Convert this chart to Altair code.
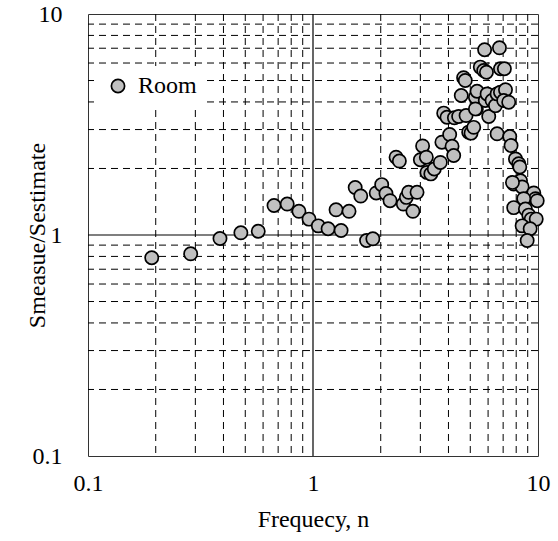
import altair as alt
import pandas as pd

# Measured points (Frequency n, Smeasue/Sestimate)
freq = [0.192, 0.286, 0.386, 0.478, 0.571, 0.671, 0.768, 0.866, 0.96, 1.056,
        1.167, 1.333, 1.266, 1.446, 1.54, 1.63, 1.73, 1.845, 1.91, 2.02,
        2.11, 2.20, 2.52, 2.60, 2.66, 2.78, 2.90, 2.34, 2.42, 3.07,
        3.00, 3.19, 3.21, 3.34, 3.46, 3.68, 3.74, 4.05, 4.15, 4.22,
        3.81, 3.94, 4.25, 4.44, 4.79, 4.92, 5.04, 5.18, 5.32, 4.56,
        4.67, 4.75, 5.27, 5.36, 5.83, 6.04, 5.54, 5.74, 5.90, 5.79,
        6.74, 6.81, 7.09, 5.94, 6.25, 6.47, 6.58, 6.81, 7.17, 7.04,
        7.41, 6.58, 7.49, 7.59, 7.94, 8.21, 8.30, 7.80, 8.36, 8.50,
        9.58, 9.75, 8.64, 7.80, 9.92, 8.79, 9.10, 9.33, 9.82, 8.50,
        9.23, 8.95, 7.70, 5.27]
ratio = [0.789, 0.822, 0.964, 1.023, 1.04, 1.36, 1.38, 1.28, 1.18, 1.10,
         1.067, 1.048, 1.30, 1.28, 1.64, 1.50, 0.944, 0.961, 1.55, 1.69,
         1.54, 1.43, 1.38, 1.48, 1.56, 1.28, 1.56, 2.25, 2.16, 2.53,
         2.19, 2.25, 1.92, 1.89, 1.99, 2.13, 2.63, 2.85, 2.52, 2.29,
         3.56, 3.41, 3.39, 3.44, 3.47, 2.92, 2.89, 3.07, 3.72, 4.28,
         5.15, 5.00, 4.20, 4.47, 4.06, 3.44, 5.75, 5.55, 5.45, 6.89,
         7.03, 5.65, 5.65, 4.35, 4.06, 3.85, 4.35, 4.43, 4.54, 4.06,
         3.99, 2.87, 2.79, 2.54, 2.21, 2.10, 2.03, 1.70, 1.76, 1.65,
         1.55, 1.46, 1.46, 1.33, 1.43, 1.31, 1.23, 1.18, 1.18, 1.10,
         1.067, 0.944, 1.73, 3.72]
series_name = "Room"

minor_vals = [0.2, 0.3, 0.4, 0.5, 0.6, 0.7, 0.8, 0.9, 2, 3, 4, 5, 6, 7, 8, 9]
major_vals = [1]
tick_vals = [0.1, 1, 10]

FONT = "Liberation Serif"

pts = pd.DataFrame({"n": freq, "s": ratio, "series": [series_name] * len(freq)})
minor_df = pd.DataFrame({"v": minor_vals})
major_df = pd.DataFrame({"v": major_vals})

xs = alt.Scale(type="log", domain=[0.1, 10], nice=False)
ys = alt.Scale(type="log", domain=[0.1, 10], nice=False)
xax = alt.Axis(values=tick_vals, format="~g", grid=False, ticks=False, domain=False,
               labelFlush=False, labelOverlap=False,
               labelFont=FONT, labelFontSize=24, labelColor="black", labelPadding=15,
               titleFont=FONT, titleFontSize=24, titleFontWeight="normal",
               titleColor="black", titlePadding=12)
yax = alt.Axis(values=tick_vals, format="~g", grid=False, ticks=False, domain=False,
               labelFlush=False, labelOverlap=False,
               labelFont=FONT, labelFontSize=24, labelColor="black", labelPadding=26,
               titleFont=FONT, titleFontSize=24, titleFontWeight="normal",
               titleColor="black", titleX=-51, titleBaseline="middle")
XT = "Frequecy, n"
YT = "Smeasue/Sestimate"

vgrid = alt.Chart(minor_df).mark_rule(color="black", strokeWidth=1, strokeDash=[7, 5]).encode(
    x=alt.X("v:Q", scale=xs, axis=xax, title=XT))
hgrid = alt.Chart(minor_df).mark_rule(color="black", strokeWidth=1, strokeDash=[7, 5]).encode(
    y=alt.Y("v:Q", scale=ys, axis=yax, title=YT))
vmaj = alt.Chart(major_df).mark_rule(color="black", strokeWidth=1.2).encode(
    x=alt.X("v:Q", scale=xs, axis=xax, title=XT))
hmaj = alt.Chart(major_df).mark_rule(color="black", strokeWidth=1.2).encode(
    y=alt.Y("v:Q", scale=ys, axis=yax, title=YT))

points = alt.Chart(pts).mark_circle(size=175, opacity=1, stroke="black", strokeWidth=1.7).encode(
    x=alt.X("n:Q", scale=xs, axis=xax, title=XT),
    y=alt.Y("s:Q", scale=ys, axis=yax, title=YT),
    fill=alt.Fill("series:N", scale=alt.Scale(domain=[series_name], range=["#c0c0c0"]),
                  legend=alt.Legend(title=None, orient="none", legendX=10, legendY=52,
                                    fillColor="white", padding=8, symbolType="circle",
                                    symbolSize=175, symbolStrokeColor="black",
                                    symbolStrokeWidth=1.7, symbolOpacity=1,
                                    labelFont=FONT, labelFontSize=24, labelColor="black",
                                    labelOffset=8)),
)

chart = alt.layer(vgrid, hgrid, vmaj, hmaj, points).properties(
    width=450, height=442,
    autosize=alt.AutoSizeParams(type="none"),
    padding={"left": 88, "top": 14, "right": 20, "bottom": 85},
    background="white",
).configure_view(stroke="#333", strokeWidth=1).configure_legend(
    labelFont=FONT, labelFontSize=24, labelColor="black")

chart.save("out.html", embed_options={"renderer": "svg", "actions": False})
